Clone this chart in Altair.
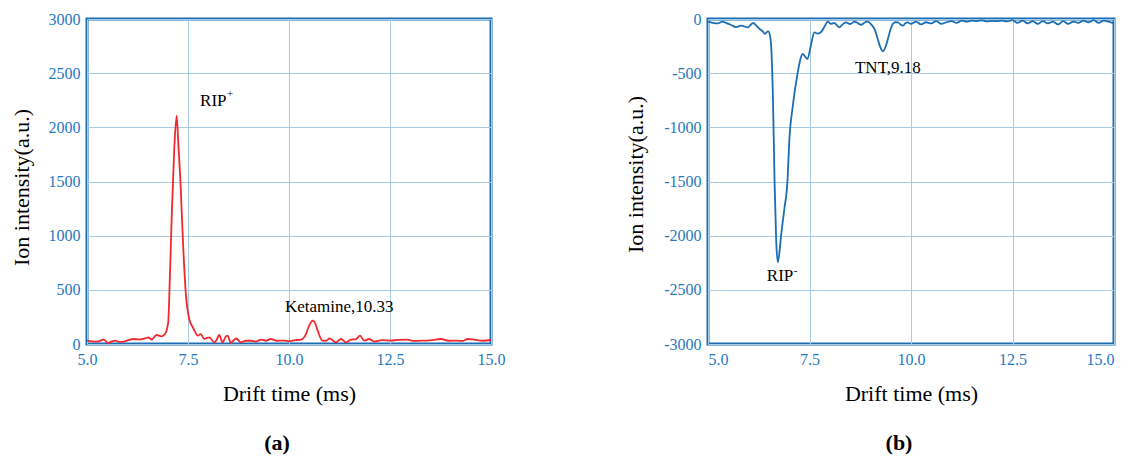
import altair as alt
import pandas as pd

# ---- panel (a): positive mode spectrum ----
time_a = [5.0, 5.13, 5.26, 5.41, 5.53, 5.62, 5.70, 5.80, 5.90, 6.02, 6.15, 6.30, 6.43, 6.52,
          6.60, 6.72, 6.84, 6.93, 7.01, 7.05, 7.10, 7.16, 7.22, 7.26, 7.31, 7.38, 7.45, 7.53,
          7.62, 7.68, 7.74, 7.82, 7.90, 7.96, 8.03, 8.15, 8.21, 8.27, 8.36, 8.42, 8.48, 8.56,
          8.62, 8.69, 8.81, 8.93, 9.06, 9.18, 9.31, 9.43, 9.55, 9.70, 9.88, 10.0, 10.15, 10.30,
          10.42, 10.50, 10.59, 10.66, 10.71, 10.83, 10.92, 11.00, 11.16, 11.29, 11.41, 11.53,
          11.66, 11.76, 11.86, 11.98, 12.11, 12.3, 12.52, 12.7, 12.93, 13.1, 13.35, 13.55,
          13.76, 13.95, 14.17, 14.3, 14.42, 14.58, 14.8, 15.0]
intensity_a = [31, 25, 22, 40, 9, 25, 31, 20, 22, 35, 46, 42, 52, 60,
               40, 83, 71, 92, 200, 600, 1215, 1800, 2108, 1850, 1523, 907, 446, 231,
               154, 110, 77, 92, 46, 55, 61, 15, 40, 83, 15, 60, 77, 10,
               30, 51, 15, 30, 30, 22, 40, 30, 46, 30, 31, 25, 35, 40,
               92, 170, 215, 180, 123, 31, 30, 52, 15, 46, 15, 40,
               46, 77, 31, 46, 22, 35, 31, 38, 40, 28, 31, 35,
               46, 30, 31, 28, 46, 40, 30, 37]

# ---- panel (b): negative mode spectrum ----
time_b = [5.0, 5.12, 5.24, 5.36, 5.47, 5.57, 5.69, 5.82, 5.98, 6.11, 6.20, 6.27, 6.35, 6.40,
          6.48, 6.53, 6.56, 6.60, 6.64, 6.68, 6.72, 6.76, 6.80, 6.88, 6.96, 7.00, 7.09, 7.21,
          7.27, 7.33, 7.45, 7.53, 7.62, 7.70, 7.78, 7.87, 7.95, 8.03, 8.11, 8.18, 8.23, 8.33,
          8.40, 8.50, 8.61, 8.70, 8.77, 8.85, 8.93, 9.02, 9.10, 9.17, 9.23, 9.31, 9.37, 9.43,
          9.50, 9.55, 9.62, 9.68, 9.74, 9.80, 9.86, 9.92, 10.0, 10.12, 10.25, 10.37, 10.5,
          10.62, 10.75, 10.87, 11.0, 11.12, 11.25, 11.37, 11.5, 11.62, 11.75, 11.87, 12.0,
          12.12, 12.25, 12.37, 12.5, 12.62, 12.75, 12.87, 13.0, 13.12, 13.25, 13.37, 13.5,
          13.62, 13.75, 13.87, 14.0, 14.12, 14.25, 14.37, 14.5, 14.62, 14.75, 14.87, 15.0]
intensity_b = [-25, -35, -40, -25, -40, -55, -75, -62, -77, -37, -65, -92, -115, -138,
               -111, -160, -277, -738, -1508, -2050, -2246, -2150, -2000, -1754, -1477, -1138, -800, -492,
               -380, -323, -369, -250, -123, -135, -123, -70, -25, -45, -37, -60, -77, -45,
               -31, -46, -25, -40, -55, -35, -25, -50, -92, -170, -246, -298, -260, -185,
               -90, -46, -30, -31, -50, -62, -40, -31, -45, -25, -50, -30, -40,
               -20, -45, -30, -20, -35, -15, -25, -15, -20, -12, -22, -18,
               -20, -15, -22, -10, -35, -15, -40, -20, -45, -20, -40, -25,
               -50, -20, -45, -25, -35, -15, -30, -10, -35, -15, -25, -40]

# ---- annotations ----
ann_a_text = ["RIP", "Ketamine,10.33"]
ann_a_x = [7.80, 9.90]
ann_a_y = [2243, 341]
ann_b_text = ["RIP", "TNT,9.18"]
ann_b_x = [6.45, 8.62]
ann_b_y = [-2372, -452]

x_ticks = [5.0, 7.5, 10.0, 12.5, 15.0]
y_ticks_a = [0, 500, 1000, 1500, 2000, 2500, 3000]
y_ticks_b = [-3000, -2500, -2000, -1500, -1000, -500, 0]

SERIF = "Liberation Serif"
LABEL_BLUE = "#1f78c1"
FRAME_BLUE = "#1b6db4"

df_a = pd.DataFrame({"t": time_a, "v": intensity_a})
df_b = pd.DataFrame({"t": time_b, "v": intensity_b})
ann_a = pd.DataFrame({"t": ann_a_x, "v": ann_a_y, "label": ann_a_text})
ann_b = pd.DataFrame({"t": ann_b_x, "v": ann_b_y, "label": ann_b_text})


def x_enc(flush):
    return alt.X("t:Q", scale=alt.Scale(domain=[5, 15], nice=False, zero=False),
                 axis=alt.Axis(values=x_ticks, format=".1f", title="Drift time (ms)",
                               labelPadding=7, titlePadding=16, labelFlush=flush))


def panel(df, ann, color, width, ydomain, yticks, title_y, title_pad, sup, sup_dy, tag, flush):
    y = alt.Y("v:Q", scale=alt.Scale(domain=ydomain, nice=False, zero=False),
              axis=alt.Axis(values=yticks, labelExpr="datum.value + ''", labelFlush=False,
                            title="Ion intensity(a.u.)", titlePadding=title_pad, titleY=title_y))
    line = alt.Chart(df).mark_line(color=color, strokeWidth=1.8, interpolate="monotone").encode(
        x=x_enc(flush), y=y)
    text = alt.Chart(ann).mark_text(font=SERIF, fontSize=17, align="left", baseline="middle",
                                    color="black").encode(x="t:Q", y="v:Q", text="label:N")
    sup_df = ann.iloc[[0]].assign(label=sup)
    suptext = alt.Chart(sup_df).mark_text(font=SERIF, fontSize=11, align="left", baseline="middle",
                                          dx=27, dy=sup_dy, color="black").encode(
        x="t:Q", y="v:Q", text="label:N")
    tag_df = pd.DataFrame({"label": [tag]})
    tagtext = alt.Chart(tag_df).mark_text(font=SERIF, fontSize=22, fontWeight="bold",
                                          align="center", baseline="middle", color="black").encode(
        x=alt.value(width / 2 - 12), y=alt.value(424), text="label:N")
    return alt.layer(line, text, suptext, tagtext).properties(width=width, height=325)


left = panel(df_a, ann_a, "#f2282d", 404, [0, 3000], y_ticks_a, 168, 15, "+", -7, "(a)", False)
right = panel(df_b, ann_b, FRAME_BLUE, 406, [-3000, 0], y_ticks_b, 155, 16, "-", -5, "(b)", True)

chart = alt.hconcat(left, right, spacing=217, bounds="flush").properties(
    padding={"left": 0, "top": 1, "right": 0, "bottom": 0}
).configure(
    background="white"
).configure_view(
    stroke=FRAME_BLUE, strokeWidth=3
).configure_axis(
    labelFont=SERIF, labelFontSize=16, labelColor=LABEL_BLUE, labelPadding=7,
    titleFont=SERIF, titleFontSize=22, titleFontWeight="normal", titleColor="black",
    ticks=False, domain=False, grid=True, gridColor="#a9cce6", gridWidth=1, gridOpacity=1
)

chart.save("out.html", embed_options={"renderer": "svg", "actions": False})
